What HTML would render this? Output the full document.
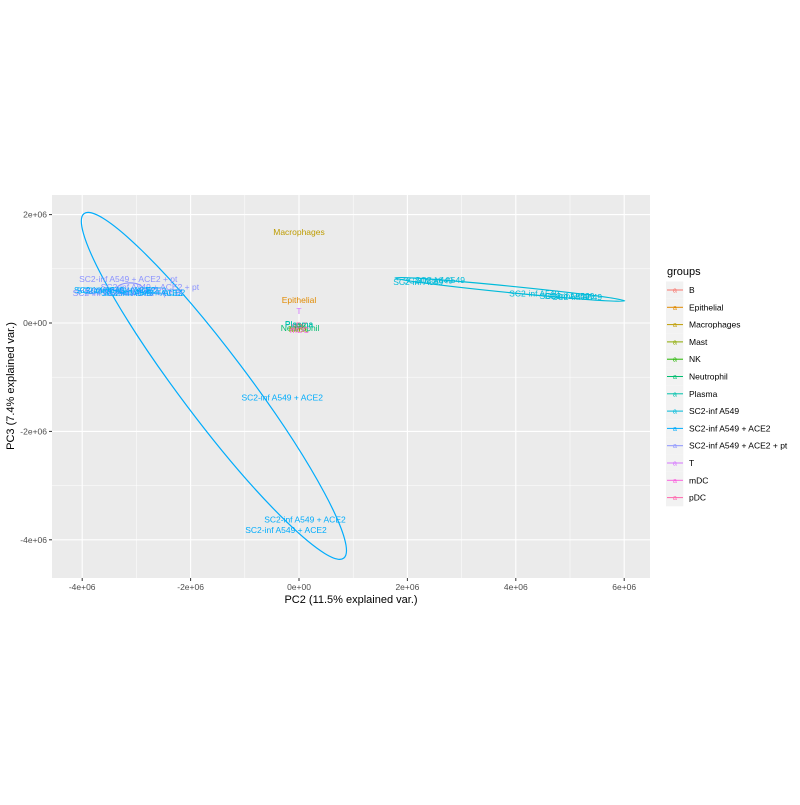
<!DOCTYPE html>
<html><head><meta charset="utf-8"><style>
body{margin:0;background:#fff;}
text{font-family:"Liberation Sans",sans-serif;}
</style></head><body>
<svg id="chart" width="800" height="800" xmlns="http://www.w3.org/2000/svg">
<rect x="52" y="195" width="598" height="383" fill="#EBEBEB"/>
<g id="grid"></g><g id="ell"></g><g id="labs"></g><g id="axes"></g><g id="legend"></g>
<text x="351" y="603" font-size="11" text-anchor="middle" fill="#000">PC2 (11.5% explained var.)</text>
<text transform="translate(14,386) rotate(-90)" font-size="11" text-anchor="middle" fill="#000">PC3 (7.4% explained var.)</text>
</svg>
<script>
const groups=["B","Epithelial","Macrophages","Mast","NK","Neutrophil","Plasma","SC2-inf A549","SC2-inf A549 + ACE2","SC2-inf A549 + ACE2 + pt","T","mDC","pDC"];
const colors=["#F8766D","#E18A00","#BE9C00","#8CAB00","#24B700","#00BE70","#00C1AB","#00BBDA","#00ACFC","#8B93FF","#D575FE","#F962DD","#FF65AC"];
const xTicks=[-4,-2,0,2,4,6];
const xTickLabels=["-4e+06","-2e+06","0e+00","2e+06","4e+06","6e+06"];
const yTicks=[2,0,-2,-4];
const yTickLabels=["2e+06","0e+00","-2e+06","-4e+06"];
// labeled points (PC2, PC3 in millions), group index
const ptX=[-3.15,-2.75,-3.4,-3.27,-2.9,-3.2,-3.05,-3.35,-2.85,0,0,0,0,0.02,0,0.03,-0.02,0.01,0.01,0,2.38,2.2,2.6,4.34,4.9,5.13,4.99,-0.31,0.11,-0.24];
const ptY=[0.81,0.66,0.61,0.55,0.55,0.6,0.58,0.6,0.56,1.68,0.42,0.22,-0.02,-0.09,-0.06,-0.07,-0.11,-0.13,-0.05,-0.03,0.78,0.76,0.79,0.54,0.5,0.48,0.5,-1.37,-3.63,-3.82];
const ptG=[9,9,8,9,8,8,9,8,8,2,1,10,6,5,0,4,3,11,12,6,7,7,7,7,7,7,7,8,8,8];
// ellipses: center, semi-axes (millions), screen angle
const elCx=[-1.57,3.89,-3.12];
const elCy=[-1.16,0.62,0.63];
const elA=[3.98,2.13,0.24];
const elB=[0.62,0.06,0.11];
const elAng=[53,5.7,0];
const elG=[8,7,9];

const S=54.2;
const X=v=>299+v*S, Y=v=>323-v*S;
const NS="http://www.w3.org/2000/svg";
function mk(t,a,p){const e=document.createElementNS(NS,t);for(const k in a)e.setAttribute(k,a[k]);p.appendChild(e);return e;}
const grid=document.getElementById('grid');
for(let i=0;i<xTicks.length;i++){
 const x=X(xTicks[i]);
 const l=mk('line',{x1:x,x2:x,y1:195,y2:578,stroke:'#fff','stroke-width':1.1},grid);
 
 
 if(i<xTicks.length-1){const m=mk('line',{x1:X((xTicks[i]+xTicks[i+1])/2),x2:X((xTicks[i]+xTicks[i+1])/2),y1:195,y2:578,stroke:'#fff','stroke-width':0.5},grid);
 
 }
}
for(let i=0;i<yTicks.length;i++){
 const y=Y(yTicks[i]);
 const l=mk('line',{x1:52,x2:650,y1:y,y2:y,stroke:'#fff','stroke-width':1.1},grid);
 
 
 const m=mk('line',{x1:52,x2:650,y1:Y(yTicks[i]+1),y2:Y(yTicks[i]+1),stroke:'#fff','stroke-width':0.5},grid);
 
 
}
const ax=document.getElementById('axes');
for(let i=0;i<xTicks.length;i++){
 const x=X(xTicks[i]);
 mk('line',{x1:x,x2:x,y1:578,y2:581,stroke:'#333'},ax);
 const t=mk('text',{x:x,y:590,'font-size':8.5,'text-anchor':'middle',fill:'#4D4D4D'},ax);t.textContent=xTickLabels[i];
 
 
}
for(let i=0;i<yTicks.length;i++){
 const y=Y(yTicks[i]);
 mk('line',{x1:49,x2:52,y1:y,y2:y,stroke:'#333'},ax);
 const t=mk('text',{x:47,y:y+3,'font-size':8.5,'text-anchor':'end',fill:'#4D4D4D'},ax);t.textContent=yTickLabels[i];
 
 
}
const el=document.getElementById('ell');
for(let i=0;i<elCx.length;i++){
 const cx=X(elCx[i]),cy=Y(elCy[i]);
 const e=mk('ellipse',{cx:cx,cy:cy,rx:elA[i]*S,ry:elB[i]*S,fill:'none',stroke:colors[elG[i]],'stroke-width':1.2,transform:`rotate(${elAng[i]} ${cx} ${cy})`},el);
 
 
}
const lb=document.getElementById('labs');
for(let i=0;i<ptX.length;i++){
 const t=mk('text',{x:X(ptX[i]),y:Y(ptY[i])+3,'font-size':8.5,'text-anchor':'middle',fill:colors[ptG[i]]},lb);
 t.textContent=groups[ptG[i]];
 
 
}
const lg=document.getElementById('legend');
const tt=mk('text',{x:667,y:275,'font-size':11,fill:'#000'},lg);tt.textContent='groups';


for(let i=0;i<groups.length;i++){
 const y=290+i*17.3;
 const g=mk('g',{},lg);
 
 
 mk('rect',{x:666,y:y-8.6,width:17.3,height:17.3,fill:'#F2F2F2'},g);
 mk('line',{x1:667,x2:683,y1:y,y2:y,stroke:colors[i],'stroke-width':1},g);
 const a=mk('text',{x:675,y:y+2.5,'font-size':7,'text-anchor':'middle',fill:colors[i]},g);a.textContent='a';
 const t=mk('text',{x:689,y:y+3,'font-size':8.5,fill:'#000'},g);t.textContent=groups[i];
}
</script>
</body></html>
